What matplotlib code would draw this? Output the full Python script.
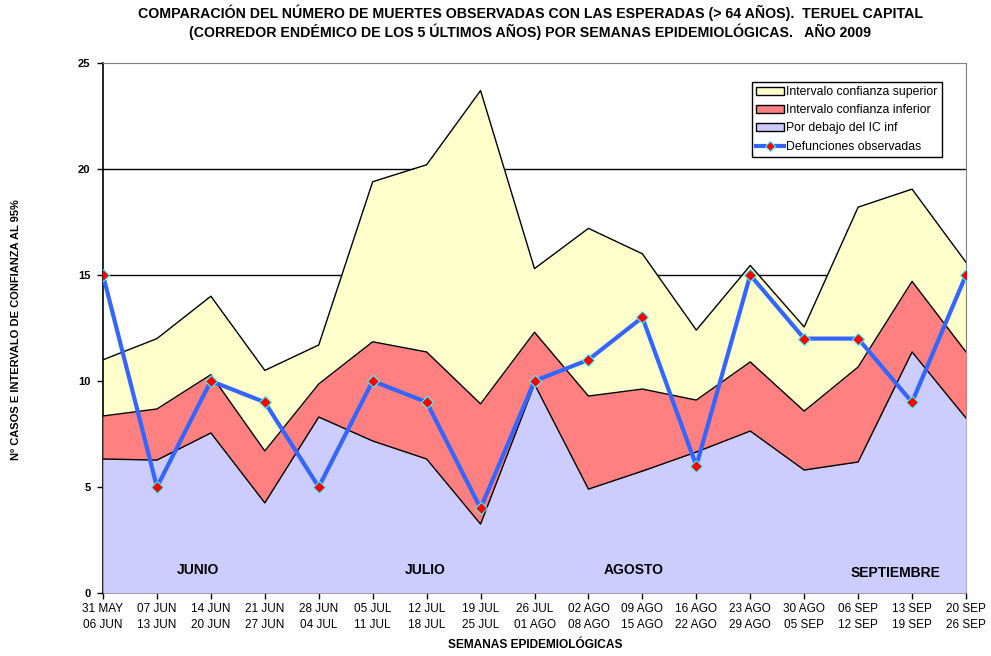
import matplotlib
matplotlib.use("Agg")
import matplotlib.pyplot as plt
from matplotlib.lines import Line2D
from matplotlib.patches import Patch
import numpy as np

plt.rcParams['font.family'] = ['Liberation Sans', 'DejaVu Sans']

weeks = ["31 MAY\n06 JUN", "07 JUN\n13 JUN", "14 JUN\n20 JUN", "21 JUN\n27 JUN", "28 JUN\n04 JUL",
         "05 JUL\n11 JUL", "12 JUL\n18 JUL", "19 JUL\n25 JUL", "26 JUL\n01 AGO", "02 AGO\n08 AGO",
         "09 AGO\n15 AGO", "16 AGO\n22 AGO", "23 AGO\n29 AGO", "30 AGO\n05 SEP", "06 SEP\n12 SEP",
         "13 SEP\n19 SEP", "20 SEP\n26 SEP"]
ic_superior = [11.0, 12.0, 14.0, 10.5, 11.7, 19.4, 20.2, 23.7, 15.3, 17.2, 16.0, 12.4, 15.45, 12.55, 18.2, 19.05, 15.6]
ic_inferior = [8.35, 8.68, 10.3, 6.7, 9.86, 11.85, 11.37, 8.92, 12.3, 9.29, 9.62, 9.1, 10.9, 8.58, 10.66, 14.7, 11.37]
debajo_ic = [6.32, 6.27, 7.55, 4.25, 8.3, 7.17, 6.32, 3.25, 9.85, 4.9, 5.75, 6.65, 7.64, 5.8, 6.18, 11.37, 8.25]
observadas = [15, 5, 10, 9, 5, 10, 9, 4, 10, 11, 13, 6, 15, 12, 12, 9, 15]
months = ["JUNIO", "JULIO", "AGOSTO", "SEPTIEMBRE"]
month_x = [1.76, 5.97, 9.83, 14.7]
month_y = [1.08, 1.08, 1.08, 0.94]

fig = plt.figure(figsize=(9.91, 6.56), dpi=100)
ax = fig.add_axes([103/991, 1-593/656, (966-103)/991, (593-63)/656])

x = np.arange(len(weeks))
c_sup, c_inf, c_deb = "#FFFFCC", "#FF8080", "#CCCCFF"
ax.fill_between(x, 0, ic_superior, color=c_sup, zorder=2, lw=0)
ax.fill_between(x, 0, ic_inferior, color=c_inf, zorder=3, lw=0)
ax.fill_between(x, 0, debajo_ic, color=c_deb, zorder=4, lw=0)
ax.plot(x, ic_superior, color="black", lw=1, zorder=5)
ax.plot(x, ic_inferior, color="black", lw=1, zorder=5)
ax.plot(x, debajo_ic, color="black", lw=1, zorder=5)
ax.plot(x, observadas, color="#3366FF", lw=3, marker="D", markersize=6,
        markerfacecolor="red", markeredgecolor="#33FFFF", markeredgewidth=0.8, zorder=6)

for yv in [5, 10, 15, 20]:
    ax.axhline(yv, color="black", lw=1, zorder=1)

ax.set_xlim(0, 16)
ax.set_ylim(0, 25)
ax.set_yticks([0, 5, 10, 15, 20, 25])
ax.set_yticklabels([str(v) for v in [0, 5, 10, 15, 20, 25]], fontweight="bold", fontsize=8)
ax.set_xticks(x)
ax.set_xticklabels(weeks, fontsize=8.5, linespacing=1.5)
ax.tick_params(axis="both", direction="out", length=4, width=1, color="black")
ax.tick_params(axis="x", pad=3)
ax.tick_params(axis="y", pad=5)
for s in ["top", "right"]:
    ax.spines[s].set_color("#808080")
for s in ["left", "bottom"]:
    ax.spines[s].set_color("black")
    ax.spines[s].set_linewidth(1.2)

for m, mx, my in zip(months, month_x, month_y):
    ax.text(mx, my, m, ha="center", va="center", fontweight="bold", fontsize=10, zorder=7)

handles = [Patch(facecolor=c_sup, edgecolor="black", lw=1),
           Patch(facecolor=c_inf, edgecolor="black", lw=1),
           Patch(facecolor=c_deb, edgecolor="black", lw=1),
           Line2D([0], [0], color="#3366FF", lw=3, marker="D", markersize=5,
                  markerfacecolor="red", markeredgecolor="#33FFFF", markeredgewidth=0.8)]
labels = ["Intervalo confianza superior", "Intervalo confianza inferior",
          "Por debajo del IC inf", "Defunciones observadas"]
leg = ax.legend(handles, labels, loc="upper left", bbox_to_anchor=((752-103)/863, (593-82)/530),
                fontsize=8.8, frameon=True, fancybox=False, edgecolor="black", framealpha=1,
                borderpad=0.35, labelspacing=0.5, handlelength=2.3, handleheight=0.55,
                handletextpad=0.15, borderaxespad=0)
leg.get_frame().set_linewidth(1)
leg.set_zorder(10)

fig.text(530/991, 1-13/656, "COMPARACIÓN DEL NÚMERO DE MUERTES OBSERVADAS CON LAS ESPERADAS (> 64 AÑOS).  TERUEL CAPITAL",
         ha="center", va="center", fontweight="bold", fontsize=10.2)
fig.text(530/991, 1-32/656, "(CORREDOR ENDÉMICO DE LOS 5 ÚLTIMOS AÑOS) POR SEMANAS EPIDEMIOLÓGICAS.   AÑO 2009",
         ha="center", va="center", fontweight="bold", fontsize=10.2)
fig.text(535/991, 1-645/656, "SEMANAS EPIDEMIOLÓGICAS", ha="center", va="center",
         fontweight="bold", fontsize=8.6)
fig.text(16/991, 1-330/656, "Nº CASOS E INTERVALO DE CONFIANZA AL 95%", ha="center", va="center",
         rotation=90, fontweight="bold", fontsize=8)

fig.savefig("out.png", dpi=100)
